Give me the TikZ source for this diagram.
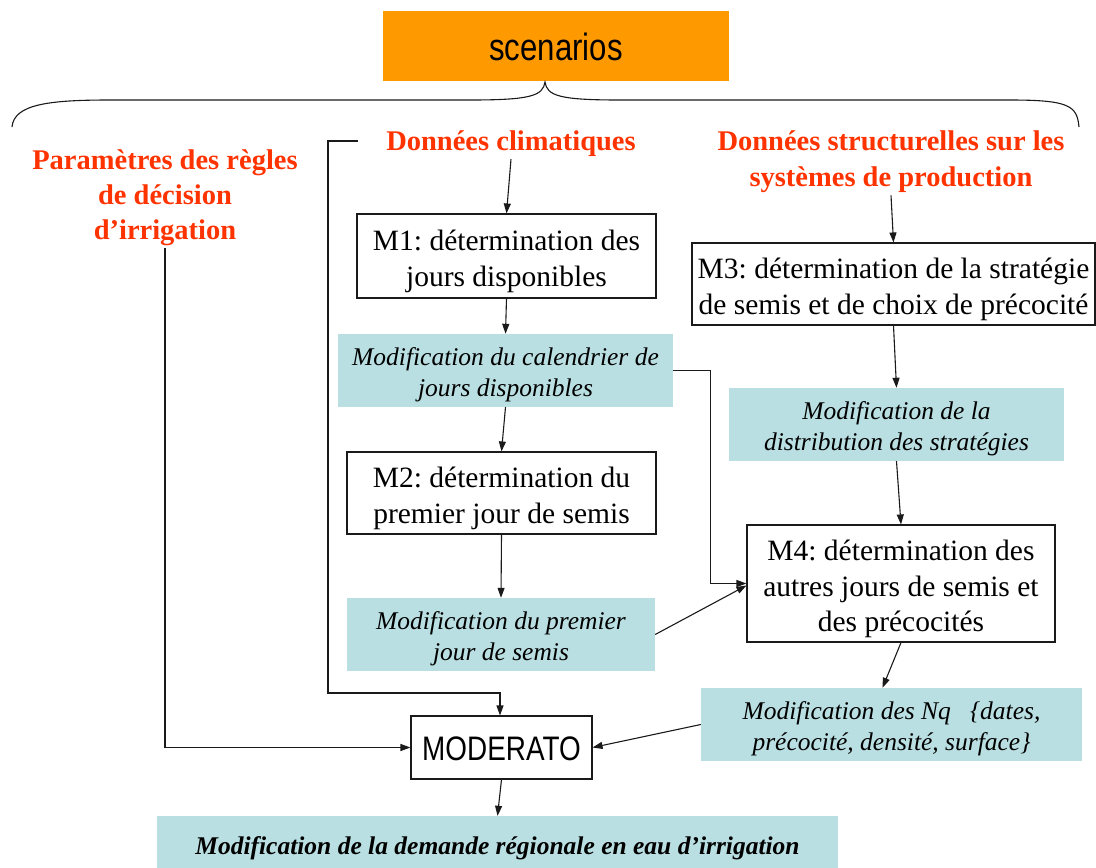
\documentclass[tikz,border=0pt]{standalone}
\usepackage{fontspec}
\setmainfont{Liberation Serif}
\newfontfamily\sansn[FakeStretch=0.82]{Liberation Sans}
\usetikzlibrary{arrows.meta}
\frenchspacing
\definecolor{scenorange}{HTML}{FF9900}
\definecolor{redtxt}{HTML}{FF3300}
\definecolor{teal}{HTML}{B9DFE2}
\definecolor{linec}{HTML}{1A1A1A}
\newcommand{\dn}[1]{\rule{0pt}{#1}}
\newcommand{\ms}{\rule{0pt}{31.5pt}}
\newcommand{\ts}{\rule{0pt}{26.5pt}}
\newcommand{\rs}{\rule{0pt}{26pt}}
\tikzset{
  mbox/.style={draw=linec, line width=1.1pt, fill=white, inner sep=0pt, align=center,
    font=\fontsize{29.5}{35.5}\selectfont},
  tbox/.style={fill=teal, inner sep=0pt, align=center,
    font=\fontsize{25.5}{31}\selectfont\itshape},
  redlab/.style={text=redtxt, inner sep=2pt, align=center,
    font=\fontsize{28.5}{35}\selectfont\bfseries},
  arr/.style={draw=linec, line width=1.1pt, -{Triangle[length=10pt,width=7pt]}},
  ln/.style={draw=linec, line width=1.1pt}
}
\begin{document}
\begin{tikzpicture}[x=1pt,y=-1pt]
\useasboundingbox (0,0) rectangle (1096,868);
% scenarios
\node[fill=scenorange, minimum width=346pt, minimum height=70pt, inner sep=0pt,
  font=\sansn\fontsize{38}{40}\selectfont] (scen) at (556,46) {\dn{30pt}scenarios};
% brace
\draw[ln] (12,127) .. controls (14,104) and (50,100) .. (110,100) -- (470,100)
  .. controls (530,100) and (543,96) .. (545,82)
  .. controls (547,96) and (560,100) .. (620,100) -- (1010,100)
  .. controls (1070,100) and (1077,106) .. (1079,127);
% red labels
\node[redlab] (par) at (165,195) {\rs Paramètres des règles\\de décision\\d’irrigation};
\node[redlab] (clim) at (511,141) {\rs Données climatiques};
\node[redlab, font=\fontsize{28.5}{36}\selectfont\bfseries] (struc) at (891,159) {\rs Données structurelles sur les\\systèmes de production};
% boxes
\node[mbox, minimum width=299pt, minimum height=84pt] (m1) at (506.5,256) {\ms M1: détermination des\\jours disponibles};
\node[tbox, minimum width=335pt, minimum height=73pt] (cal) at (505.5,370.5) {\ts Modification du calendrier de\\jours disponibles};
\node[mbox, minimum width=309pt, minimum height=82pt] (m2) at (501.5,493) {\ms M2: détermination du\\premier jour de semis};
\node[tbox, minimum width=308pt, minimum height=73pt] (prem) at (501,634.5) {\ts Modification du premier\\jour de semis};
\node[mbox, minimum width=403pt, minimum height=82pt] (m3) at (893.5,284) {\ms M3: détermination de la stratégie\\de semis et de choix de précocité};
\node[tbox, minimum width=335pt, minimum height=73pt] (dist) at (896.5,424.5) {\ts Modification de la\\distribution des stratégies};
\node[mbox, minimum width=308pt, minimum height=117pt] (m4) at (901,583.5) {\ms M4: détermination des\\autres jours de semis et\\des précocités};
\node[tbox, minimum width=381pt, minimum height=73pt] (nq) at (891.5,724.5) {\ts Modification des Nq~~~\{dates,\\précocité, densité, surface\}};
\node[mbox, minimum width=181pt, minimum height=63pt, font=\sansn\fontsize{34}{36}\selectfont] (mod) at (501.5,747.5) {\dn{26pt}MODERATO};
\node[tbox, minimum width=681pt, minimum height=54pt, font=\fontsize{25.5}{30}\selectfont\bfseries\itshape] (dem) at (497.5,843) {\dn{27.5pt}Modification de la demande régionale en eau d’irrigation};
% connectors
\coordinate (cornerA) at (328,693);
\draw[arr] ([xshift=-26pt]clim.west) -| (cornerA) -| ([xshift=-1.5pt]mod.north);
\draw[arr] (clim.south) -- (m1.north);
\draw[arr] (m1.south) -- (cal.north);
\draw[arr] (cal.south) -- (m2.north);
\draw[arr] (m2.south) -- (prem.north);
\draw[arr] (struc.south) -- (m3.north);
\draw[arr] (m3.south) -- (dist.north);
\draw[arr] (dist.south) -- (m4.north);
\draw[arr] (m4.south) -- ([xshift=-9pt]nq.north);
\draw[arr] (cal.east) -- ++(37,0) |- (m4.west);
\draw[arr] (prem.east) -- ([yshift=-2pt]m4.west);
\draw[arr] (nq.west) -- (mod.east);
\draw[arr] (par.south) |- (mod.west);
\draw[arr] (mod.south) -- (dem.north);
\end{tikzpicture}
\end{document}
